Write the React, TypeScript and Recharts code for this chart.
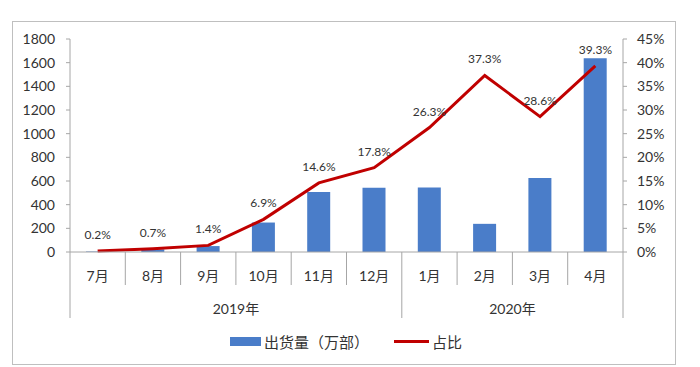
import { ComposedChart, Bar, Line, XAxis, YAxis, LabelList } from "recharts";

const months = ["7月", "8月", "9月", "10月", "11月", "12月", "1月", "2月", "3月", "4月"];
const years = ["2019年", "2019年", "2019年", "2019年", "2019年", "2019年", "2020年", "2020年", "2020年", "2020年"];
const shipments = [4, 22, 50, 249, 507, 543, 546, 238, 626, 1638];
const share = [0.2, 0.7, 1.4, 6.9, 14.6, 17.8, 26.3, 37.3, 28.6, 39.3];
const leftTicks = [0, 200, 400, 600, 800, 1000, 1200, 1400, 1600, 1800];
const rightTicks = [0, 5, 10, 15, 20, 25, 30, 35, 40, 45];

const data = months.map((m, i) => ({ month: m, year: years[i], shipments: shipments[i], share: share[i] }));

const W = 700;
const H = 367;
const LEFT_W = 70;
const RIGHT_W = 77;
const TOP = 39;
const XAXIS_H = 115;
const bw = (W - LEFT_W - RIGHT_W) / months.length;

const FONT = "Lato, 'Noto Sans CJK SC', sans-serif";
const TEXT = "#333333";
const AXIS = "#A6A6A6";
const BLUE = "#4A7DC9";
const RED = "#C00000";

// year groups: start/end index for each year
const groups: { name: string; start: number; end: number }[] = [];
years.forEach((y, i) => {
  const g = groups[groups.length - 1];
  if (g && g.name === y) g.end = i;
  else groups.push({ name: y, start: i, end: i });
});

const MonthTick = (props: any) => {
  const { x, y, payload } = props;
  const i = payload.index;
  const isGroupStart = groups.some((g) => g.start === i);
  const isLast = i === months.length - 1;
  const yearLabels = groups.filter((g) => Math.floor((g.start + g.end) / 2) === i);
  return (
    <g>
      <text x={x} y={y + 23} textAnchor="middle" dominantBaseline="central" fill={TEXT} fontSize={14} fontFamily={FONT}>
        {payload.value}
      </text>
      <line x1={x - bw / 2} x2={x - bw / 2} y1={y} y2={y + (isGroupStart ? 66 : 33)} stroke={AXIS} />
      {isLast && <line x1={x + bw / 2} x2={x + bw / 2} y1={y} y2={y + 66} stroke={AXIS} />}
      {yearLabels.map((g) => {
        const c = (g.start + g.end) / 2;
        const cx = x + (c - i) * bw;
        return (
          <text key={g.name} x={cx} y={y + 56} textAnchor="middle" dominantBaseline="central" fill={TEXT} fontSize={14} fontFamily={FONT}>
            {g.name}
          </text>
        );
      })}
    </g>
  );
};

export default function App() {
  return (
    <div style={{ position: "absolute", left: 0, top: 0, width: W, height: H, background: "#fff", fontFamily: FONT }}>
      <div
        style={{
          position: "absolute",
          left: 12,
          top: 21,
          width: 664,
          height: 344,
          border: "1px solid #BFBFBF",
          boxSizing: "border-box",
        }}
      />
      <ComposedChart width={W} height={H} data={data} margin={{ top: TOP, right: 0, left: 0, bottom: H - TOP - XAXIS_H - 213 }}>
        <XAxis
          dataKey="month"
          height={XAXIS_H}
          tick={<MonthTick />}
          tickLine={false}
          tickSize={0}
          tickMargin={0}
          interval={0}
          axisLine={{ stroke: AXIS }}
        />
        <YAxis
          yAxisId="left"
          width={LEFT_W}
          domain={[0, 1800]}
          ticks={leftTicks}
          tickSize={4}
          tickMargin={11}
          axisLine={{ stroke: AXIS }}
          tickLine={{ stroke: AXIS }}
          tick={{ fill: TEXT, fontSize: 14, fontFamily: FONT }}
        />
        <YAxis
          yAxisId="right"
          orientation="right"
          width={RIGHT_W}
          domain={[0, 45]}
          ticks={rightTicks}
          tickFormatter={(v) => `${v}%`}
          tickSize={4}
          tickMargin={10}
          axisLine={{ stroke: AXIS }}
          tickLine={{ stroke: AXIS }}
          tick={{ fill: TEXT, fontSize: 14, fontFamily: FONT }}
        />
        <Bar yAxisId="left" dataKey="shipments" fill={BLUE} barSize={23} isAnimationActive={false} />
        <Line
          yAxisId="right"
          dataKey="share"
          stroke={RED}
          strokeWidth={3}
          dot={false}
          type="linear"
          isAnimationActive={false}
        >
          <LabelList
            dataKey="share"
            position="top"
            offset={12}
            formatter={(v: any) => `${v}%`}
            fill={TEXT}
            fontSize={12}
            fontFamily={FONT}
          />
        </Line>
      </ComposedChart>
      <div style={{ position: "absolute", left: 230, top: 332, height: 18, display: "flex", alignItems: "center", fontSize: 15, color: TEXT }}>
        <span style={{ display: "inline-block", width: 31, height: 9, background: BLUE, marginRight: 3 }} />
        <span>出货量（万部）</span>
        <span style={{ display: "inline-block", width: 35, height: 3, background: RED, marginLeft: 25, marginRight: 3 }} />
        <span>占比</span>
      </div>
    </div>
  );
}
